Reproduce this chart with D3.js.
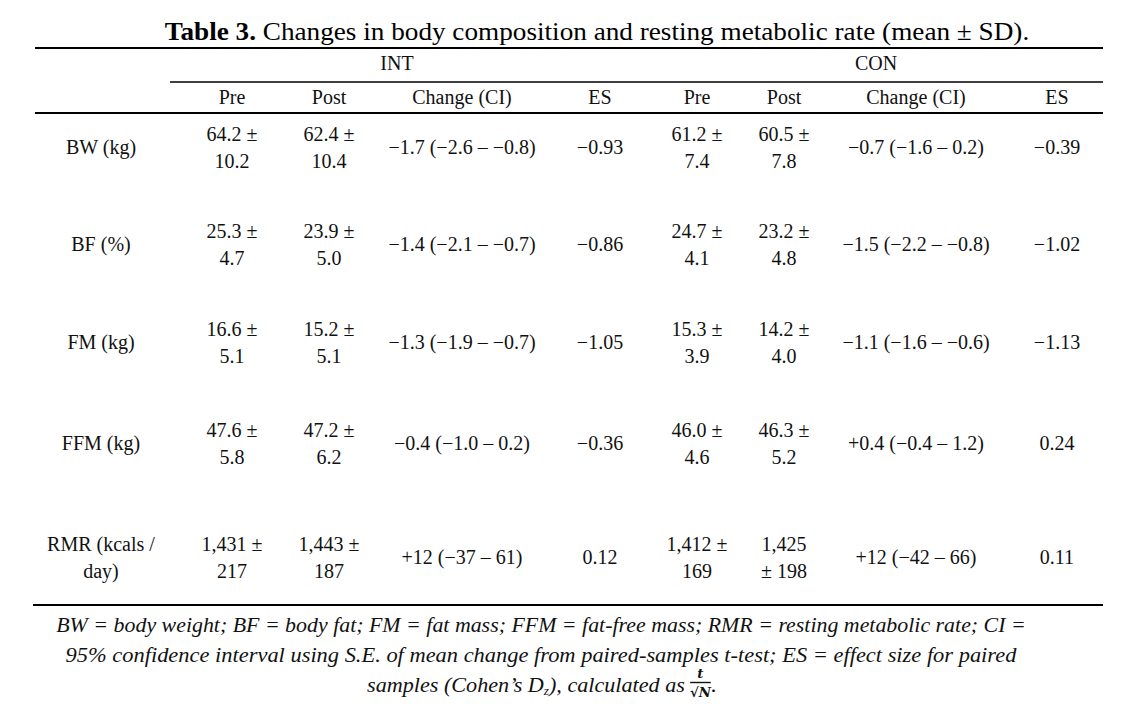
<!DOCTYPE html>
<html><head><meta charset="utf-8">
<script src="https://cdn.jsdelivr.net/npm/d3@7"></script>
<style>body{margin:0;background:#fff}svg{display:block}</style>
</head><body>
<svg id="c" width="1125" height="721"></svg>
<script>
// ---- data ----
const titleBold = "Table 3.";
const titleRest = " Changes in body composition and resting metabolic rate (mean ± SD).";
const variables = ["BW (kg)", "BF (%)", "FM (kg)", "FFM (kg)", "RMR (kcals /\nday)"];
const groups = ["INT", "CON"];
const columns = ["Pre", "Post", "Change (CI)", "ES"];
const intPre = ["64.2 ±\n10.2", "25.3 ±\n4.7", "16.6 ±\n5.1", "47.6 ±\n5.8", "1,431 ±\n217"];
const intPost = ["62.4 ±\n10.4", "23.9 ±\n5.0", "15.2 ±\n5.1", "47.2 ±\n6.2", "1,443 ±\n187"];
const intChange = ["−1.7 (−2.6 – −0.8)", "−1.4 (−2.1 – −0.7)", "−1.3 (−1.9 – −0.7)", "−0.4 (−1.0 – 0.2)", "+12 (−37 – 61)"];
const intES = ["−0.93", "−0.86", "−1.05", "−0.36", "0.12"];
const conPre = ["61.2 ±\n7.4", "24.7 ±\n4.1", "15.3 ±\n3.9", "46.0 ±\n4.6", "1,412 ±\n169"];
const conPost = ["60.5 ±\n7.8", "23.2 ±\n4.8", "14.2 ±\n4.0", "46.3 ±\n5.2", "1,425\n± 198"];
const conChange = ["−0.7 (−1.6 – 0.2)", "−1.5 (−2.2 – −0.8)", "−1.1 (−1.6 – −0.6)", "+0.4 (−0.4 – 1.2)", "+12 (−42 – 66)"];
const conES = ["−0.39", "−1.02", "−1.13", "0.24", "0.11"];
const footLines = [
  "BW = body weight; BF = body fat; FM = fat mass; FFM = fat-free mass; RMR = resting metabolic rate; CI =",
  "95% confidence interval using S.E. of mean change from paired-samples t-test; ES = effect size for paired"
];
const footLast = ["samples (Cohen’s D", "z", "), calculated as"];
const fracNum = "t", fracDen = "√N";

// ---- layout ----
const svg = d3.select("#c");
const FONT = "'Liberation Serif', 'Times New Roman', serif";
const FS = 20, LH = 27;
const colKeys = ["label"].concat(...groups.map(g => columns.map(c => g + "|" + c)));
const x = d3.scaleOrdinal().domain(colKeys).range([101, 232, 329, 462, 600, 697, 784, 916, 1057]);
const y = d3.scaleOrdinal().domain(variables).range([147, 244, 342, 443, 557]);
const groupX = d3.scaleOrdinal().domain(groups).range([397, 876]);
const cols = {
  "INT|Pre": intPre, "INT|Post": intPost, "INT|Change (CI)": intChange, "INT|ES": intES,
  "CON|Pre": conPre, "CON|Post": conPost, "CON|Change (CI)": conChange, "CON|ES": conES
};

function stretchTo(sel, targetW, cx) {
  const w = sel.node().getComputedTextLength();
  const k = targetW / w;
  sel.attr("transform", `translate(${cx},0) scale(${k},1) translate(${-cx},0)`);
}

function multiText(g, str, cx, cy) {
  const lines = str.split("\n");
  const t = g.append("text").attr("x", cx).attr("text-anchor", "middle")
    .attr("font-family", FONT).attr("font-size", FS).attr("fill", "#111");
  lines.forEach((ln, i) => {
    t.append("tspan").attr("x", cx)
      .attr("y", cy + (i - (lines.length - 1) / 2) * LH + 7)
      .text(ln);
  });
}

// title
const title = svg.append("text").attr("x", 597).attr("y", 40).attr("text-anchor", "middle")
  .attr("font-family", FONT).attr("font-size", 24.5).attr("fill", "#000");
title.append("tspan").attr("font-weight", "bold").text(titleBold);
title.append("tspan").text(titleRest);
stretchTo(title, 865, 597);

// rules
const rules = [
  {x1: 35, x2: 1103, y: 48, w: 2},
  {x1: 170, x2: 1103, y: 82, w: 1.6},
  {x1: 35, x2: 1103, y: 113, w: 2},
  {x1: 33, x2: 1103, y: 605, w: 2}
];
svg.selectAll("line.rule").data(rules).join("line").attr("class", "rule")
  .attr("x1", d => d.x1).attr("x2", d => d.x2).attr("y1", d => d.y).attr("y2", d => d.y)
  .attr("stroke", "#000").attr("stroke-width", d => d.w);

// group headers
groups.forEach(g => multiText(svg, g, groupX(g), 63));
// column headers
colKeys.slice(1).forEach(k => multiText(svg, k.split("|")[1], x(k), 97));

// body
variables.forEach((v, i) => {
  multiText(svg, v, x("label"), y(v));
  colKeys.slice(1).forEach(k => multiText(svg, cols[k][i], x(k), y(v)));
});

// footnote
const FFS = 21.5;
const footW = [970, 951];
footLines.forEach((ln, i) => {
  const t = svg.append("text").attr("x", 541).attr("y", 632 + i * 30).attr("text-anchor", "middle")
    .attr("font-family", FONT).attr("font-style", "italic").attr("font-size", FFS).attr("fill", "#111")
    .text(ln);
  stretchTo(t, footW[i], 541);
});
const last = svg.append("g");
const lt = last.append("text").attr("x", 0).attr("y", 692)
  .attr("font-family", FONT).attr("font-style", "italic").attr("font-size", FFS).attr("fill", "#111");
lt.append("tspan").text(footLast[0]);
lt.append("tspan").attr("font-size", 13).attr("dy", 3).text(footLast[1]);
lt.append("tspan").attr("dy", -3).text(footLast[2]);
const w0 = lt.node().getComputedTextLength() + 5;
const fr = last.append("g").attr("transform", `translate(${w0},0)`);
fr.append("text").attr("x", 10).attr("y", 678.5).attr("text-anchor", "middle")
  .attr("font-family", "'DejaVu Serif', serif").attr("font-style", "italic").attr("font-weight", "bold")
  .attr("font-size", 13).attr("fill", "#111").text(fracNum);
fr.append("line").attr("x1", 0).attr("x2", 20).attr("y1", 682.5).attr("y2", 682.5)
  .attr("stroke", "#111").attr("stroke-width", 1.4);
fr.append("text").attr("x", 10).attr("y", 697).attr("text-anchor", "middle")
  .attr("font-family", "'DejaVu Serif', serif").attr("font-style", "italic").attr("font-weight", "bold")
  .attr("font-size", 13).attr("fill", "#111").text(fracDen);
fr.append("text").attr("x", 20).attr("y", 692).attr("font-family", FONT).attr("font-size", FFS).text(".");
const totalW = w0 + 24;
last.attr("transform", `translate(${541 - totalW / 2},0) translate(${totalW/2},0) scale(1.03,1) translate(${-totalW/2},0)`);
</script>
</body></html>
